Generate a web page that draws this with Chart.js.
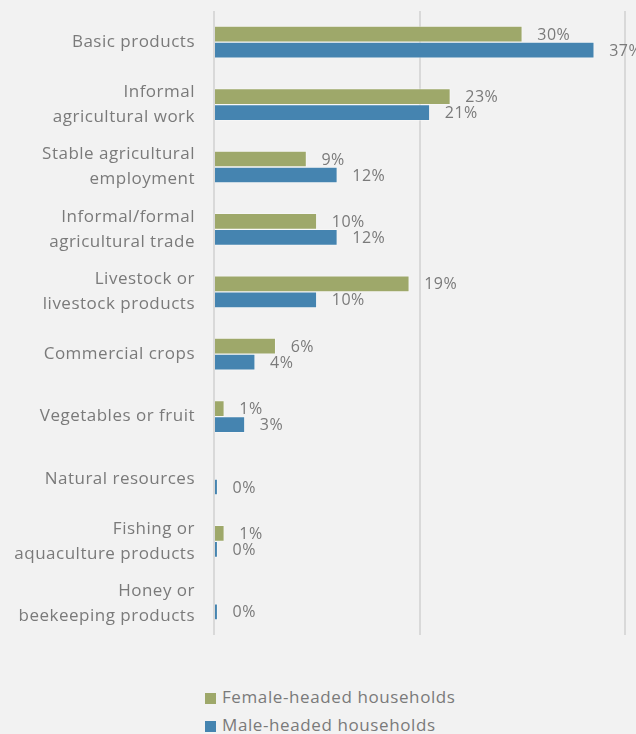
<!DOCTYPE html>
<html>
<head>
<meta charset="utf-8">
<script src="https://cdn.jsdelivr.net/npm/chart.js@4.4.0/dist/chart.umd.min.js"></script>
<style>
  html, body { margin: 0; padding: 0; background: #f2f2f2; }
  #wrap { position: relative; width: 636px; height: 734px; }
  #box { position: absolute; left: 0; top: 0; width: 636px; height: 650px; }
  #legend { position: absolute; left: 205px; top: 683px; font-family: "Open Sans", sans-serif; font-size: 17px; color: #7a7a7a; letter-spacing: 0.6px; }
  #legend div { height: 28px; line-height: 28px; white-space: nowrap; }
  #legend span { display: inline-block; width: 11px; height: 11px; margin-right: 6px; vertical-align: -1px; }
</style>
</head>
<body>
<div id="wrap">
  <div id="box"><canvas id="myChart"></canvas></div>
  <div id="legend"></div>
</div>
<script>
const categories = [
  "Basic products",
  ["Informal", "agricultural work"],
  ["Stable agricultural", "employment"],
  ["Informal/formal", "agricultural trade"],
  ["Livestock or", "livestock products"],
  "Commercial crops",
  "Vegetables or fruit",
  "Natural resources",
  ["Fishing or", "aquaculture products"],
  ["Honey or", "beekeeping products"]
];
const femaleValues = [30, 23, 9, 10, 19, 6, 1, null, 1, null];
const maleValues = [37, 21, 12, 12, 10, 4, 3, 0.35, 0.35, 0.35];
const seriesNames = ["Female-headed households", "Male-headed households"];
const barColors = ["#9ea86a", "#4584b0"];
const xTicks = [0, 20, 40];

const textColor = "#7a7a7a";
const fontFamily = "'Open Sans', sans-serif";

// draw the % labels at the end of each bar
const valueLabels = {
  id: "valueLabels",
  beforeDraw(chart) {
    chart.ctx.letterSpacing = "0.5px";
  },
  afterDatasetsDraw(chart) {
    const ctx = chart.ctx;
    ctx.save();
    ctx.font = "16px " + fontFamily;
    ctx.fillStyle = textColor;
    ctx.textAlign = "left";
    ctx.textBaseline = "middle";
    chart.data.datasets.forEach((ds, i) => {
      const meta = chart.getDatasetMeta(i);
      meta.data.forEach((bar, j) => {
        const v = ds.data[j];
        if (v === null || v === undefined) return;
        ctx.fillText(Math.round(v) + "%", bar.x + 15, bar.y + 1);
      });
    });
    ctx.restore();
  }
};

new Chart("myChart", {
  type: "bar",
  data: {
    labels: categories,
    datasets: [{
      label: seriesNames[0],
      data: femaleValues,
      backgroundColor: barColors[0],
      borderColor: "rgba(255,255,255,0.35)",
      borderWidth: 1,
      barThickness: 16
    }, {
      label: seriesNames[1],
      data: maleValues,
      backgroundColor: barColors[1],
      borderColor: "rgba(255,255,255,0.35)",
      borderWidth: 1,
      barThickness: 16
    }]
  },
  options: {
    indexAxis: "y",
    responsive: true,
    maintainAspectRatio: false,
    animation: false,
    layout: { padding: { top: 11, right: 11, bottom: 15, left: 0 } },
    plugins: {
      legend: { display: false },
      tooltip: { enabled: false }
    },
    scales: {
      x: {
        min: xTicks[0],
        max: xTicks[xTicks.length - 1],
        afterBuildTicks: (axis) => { axis.ticks = xTicks.map(v => ({ value: v })); },
        afterFit: (axis) => { axis.height = 0; axis.paddingLeft = 0; axis.paddingRight = 0; },
        ticks: { display: false },
        border: { display: false },
        grid: { color: "#d9d9d9", lineWidth: 2, drawTicks: false }
      },
      y: {
        border: { display: false },
        grid: { display: false, drawTicks: false },
        afterFit: (axis) => { axis.width = 214; axis.paddingTop = 0; axis.paddingBottom = 0; },
        ticks: {
          padding: 19,
          color: textColor,
          font: { family: fontFamily, size: 17, lineHeight: 1.47 }
        }
      }
    }
  },
  plugins: [valueLabels]
});

// legend, stacked vertically like the original
const legend = document.getElementById("legend");
seriesNames.forEach((name, i) => {
  const row = document.createElement("div");
  const sw = document.createElement("span");
  sw.style.background = barColors[i];
  row.appendChild(sw);
  row.appendChild(document.createTextNode(name));
  legend.appendChild(row);
});
</script>
</body>
</html>
